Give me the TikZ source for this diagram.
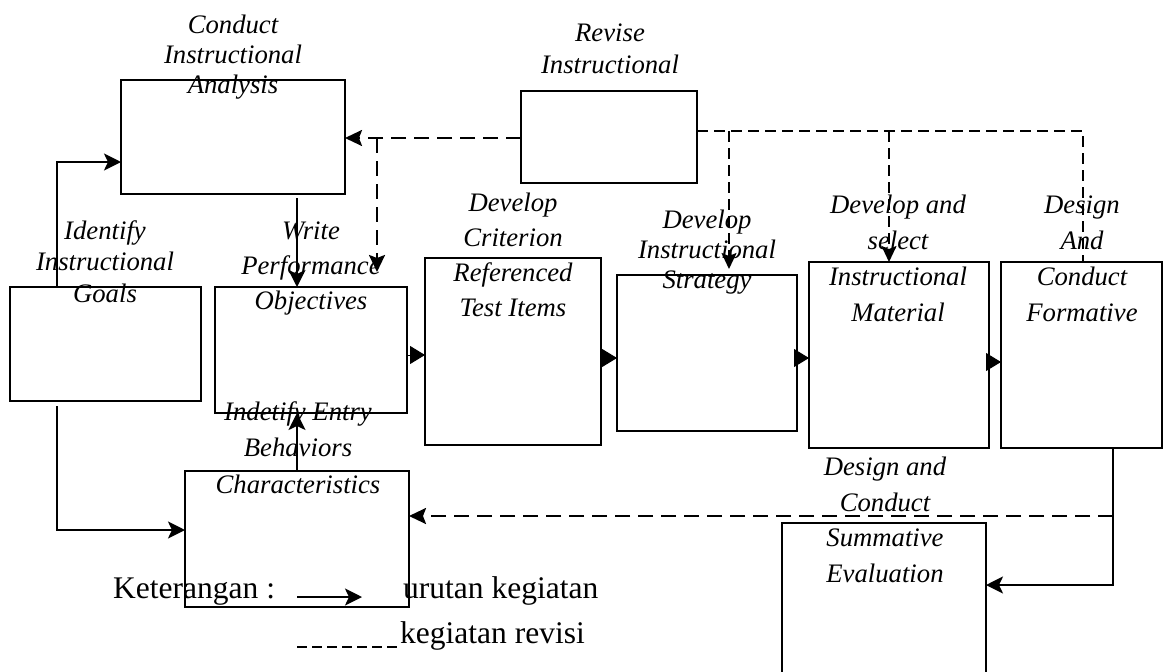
\documentclass[tikz,border=0pt]{standalone}
\usepackage{fontspec}
\setmainfont{Liberation Serif}
\usetikzlibrary{arrows.meta}
\tikzset{
  box/.style={draw, line width=1.8pt, inner sep=0pt, outer sep=0pt},
  lbl/.style={font=\fontsize{26.7}{#1}\selectfont\itshape, align=center, anchor=base, inner sep=0pt},
  legtext/.style={font=\fontsize{31.5}{36}\selectfont, anchor=base west, inner sep=0pt},
  flow/.style={line width=2pt, -{Stealth[length=17pt,width=17pt,inset=4pt]}},
  joinarrow/.style={line width=1pt, -{Triangle[length=15pt,width=18pt]}},
  revarrow/.style={line width=2.4pt, dash pattern=on 15pt off 8pt, -{Stealth[length=17pt,width=16pt,inset=3pt]}},
  revthin/.style={line width=1.8pt, dash pattern=on 11pt off 6pt},
  revthinarrow/.style={revthin, -{Stealth[length=16pt,width=15pt,inset=3pt]}},
  legdash/.style={line width=1.8pt, dash pattern=on 10pt off 5pt},
}
\begin{document}
\begin{tikzpicture}[x=1pt, y=-1pt]
  \useasboundingbox (0,0) rectangle (1163,672);
  \clip (0,0) rectangle (1163,672);

  % boxes of the model
  \node[box, minimum width=224pt, minimum height=114pt] (ana)   at (233,137)   {};
  \node[box, minimum width=176pt, minimum height=92pt]  (rev)   at (609,137)   {};
  \node[box, minimum width=191pt, minimum height=114pt] (goal)  at (105.5,344) {};
  \node[box, minimum width=192pt, minimum height=126pt] (obj)   at (311,350)   {};
  \node[box, minimum width=176pt, minimum height=187pt] (crit)  at (513,351.5) {};
  \node[box, minimum width=180pt, minimum height=156pt] (strat) at (707,353)   {};
  \node[box, minimum width=180pt, minimum height=186pt] (mat)   at (899,355)   {};
  \node[box, minimum width=161pt, minimum height=186pt] (form)  at (1081.5,355) {};
  \node[box, minimum width=224pt, minimum height=136pt] (char)  at (297,539)   {};
  \node[box, minimum width=204pt, minimum height=177pt] (sum)   at (884,611.5) {};

  % step titles (placed by the baseline of their last line)
  \node[lbl=30]   (tAna)   at (233,93)  {Conduct\\Instructional\\Analysis};
  \node[lbl=32]   (tRev)   at (610,73)  {Revise\\Instructional};
  \node[lbl=31.5] (tGoal)  at (105,302) {Identify\\Instructional\\Goals};
  \node[lbl=35]   (tObj)   at (311,309) {Write\\Performance\\Objectives};
  \node[lbl=35]   (tCrit)  at (513,316) {Develop\\Criterion\\Referenced\\Test Items};
  \node[lbl=30]   (tStrat) at (707,288) {Develop\\Instructional\\Strategy};
  \node[lbl=36]   (tMat)   at (898,321) {Develop and\\select\\Instructional\\Material};
  \node[lbl=36]   (tForm)  at (1082,321) {Design\\And\\Conduct\\Formative};
  \node[lbl=36.5] (tChar)  at (298,493) {Indetify Entry\\Behaviors\\Characteristics};
  \node[lbl=35.5] (tSum)   at (885,582) {Design and\\Conduct\\Summative\\Evaluation};

  % bend points
  \coordinate (g1) at (57,162);
  \coordinate (g2) at (57,530);
  \coordinate (c1) at (297,0);
  \coordinate (r1) at (0,355);
  \coordinate (r2) at (0,358);
  \coordinate (r3) at (0,362);
  \coordinate (f1) at (1113,585);
  \coordinate (f2) at (1113,516);
  \coordinate (d1) at (377,138);
  \coordinate (d2) at (1083,131);
  \coordinate (b1) at (729,131);
  \coordinate (b2) at (889,131);

  % sequence of activities
  \draw[flow] (goal.north -| g1) -- (g1) -- (ana.west |- g1);
  \draw[flow, shorten <=5pt] (goal.south -| g2) -- (g2) -- (char.west |- g2);
  \draw[flow, shorten <=4pt] (ana.south -| c1) -- (obj.north -| c1);
  \draw[flow] (char.north -| c1) -- (obj.south -| c1);
  \draw[joinarrow] (obj.east |- r1) -- (crit.west |- r1);
  \draw[joinarrow] (crit.east |- r2) -- (strat.west |- r2);
  \draw[joinarrow] (strat.east |- r2) -- (mat.west |- r2);
  \draw[joinarrow] (mat.east |- r3) -- (form.west |- r3);
  \draw[flow] (form.south -| f1) -- (f1) -- (sum.east |- f1);

  % revision paths
  \draw[revarrow] (f2) -- (char.east |- f2);
  \draw[revarrow] (rev.west |- d1) -- (ana.east |- d1);
  \draw[revarrow, shorten >=15pt] (d1) -- (obj.north -| d1);
  \draw[revthin] (rev.east |- d2) -- (d2) -- (form.north -| d2);
  \draw[revthinarrow, shorten >=6pt] (b1) -- (strat.north -| b1);
  \draw[revthinarrow] (b2) -- (mat.north -| b2);

  % legend
  \node[legtext] (kt) at (113,598) {Keterangan :};
  \coordinate (la1) at (297,597);
  \coordinate (la2) at (362,597);
  \draw[flow] (la1) -- (la2);
  \node[legtext] (lu) at (403,598) {urutan kegiatan};
  \coordinate (ld1) at (297,647);
  \coordinate (ld2) at (397,647);
  \draw[legdash] (ld1) -- (ld2);
  \node[legtext] (lr) at (400,643) {kegiatan revisi};
\end{tikzpicture}
\end{document}
